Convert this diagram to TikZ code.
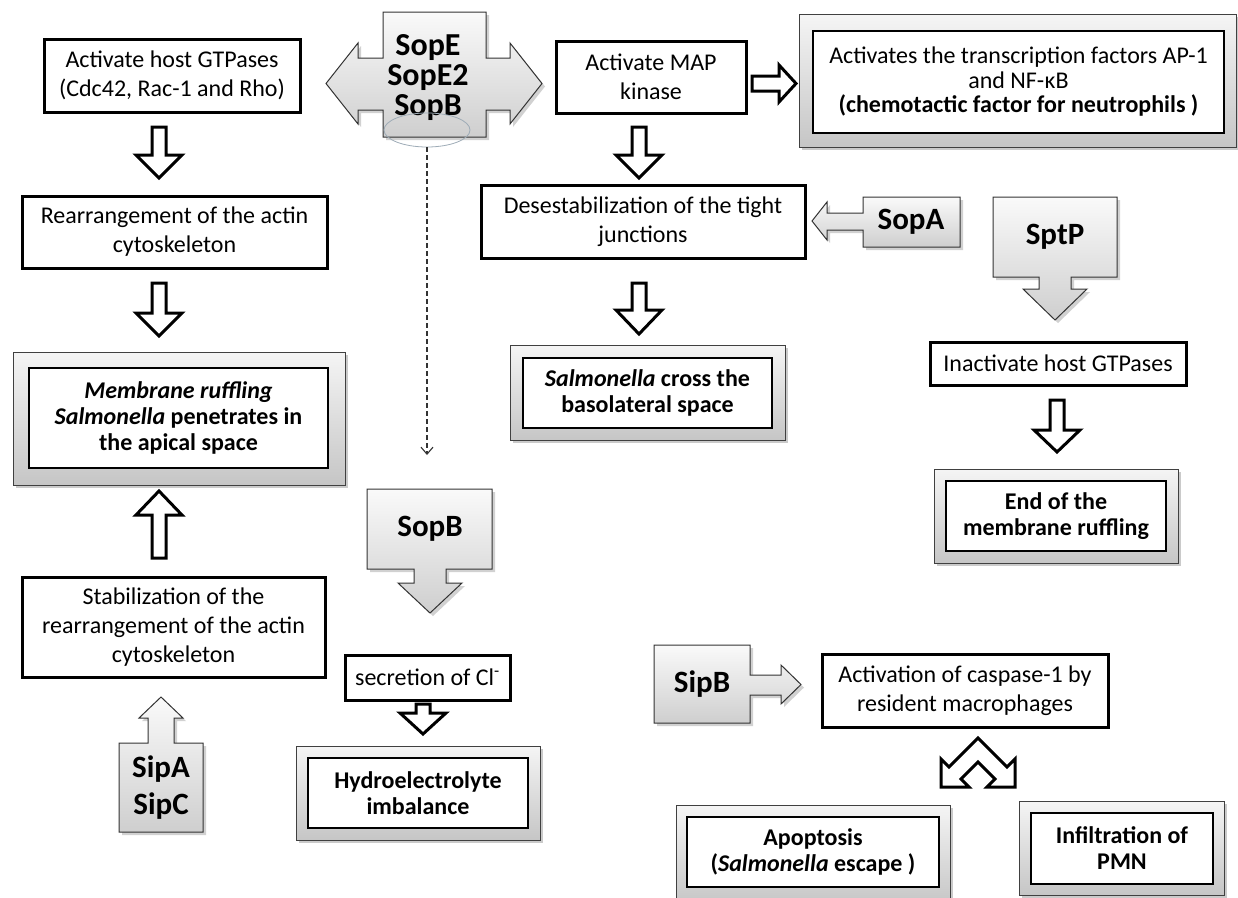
\documentclass[tikz,border=0pt]{standalone}
\usepackage{fontspec}
\setmainfont{Carlito}
\usetikzlibrary{shadows,shapes.geometric,arrows.meta}
\definecolor{ellcol}{HTML}{9DABB6}
\tikzset{
 plainbox/.style={draw=black, line width=3pt, fill=white, align=center, font=\fontsize{24}{29}\selectfont, inner sep=0pt},
 outerbox/.style={draw=black!75, line width=1pt, top color=gray!8, bottom color=gray!45, inner sep=0pt,
   drop shadow={shadow xshift=3pt, shadow yshift=-3pt, opacity=0.35, fill=black!60}},
 innerbox/.style={draw=black, line width=1.3pt, fill=white, align=center, inner sep=0pt, font=\fontsize{24}{26}\selectfont\bfseries},
 grayarrow/.style={draw=black!80, line width=1pt, top color=gray!4, bottom color=gray!38,
   drop shadow={shadow xshift=3pt, shadow yshift=-3pt, opacity=0.3, fill=black!60}},
 harrow/.style={draw=black, line width=3pt, fill=white, line join=miter},
 labeltxt/.style={font=\fontsize{31}{37}\selectfont\bfseries, align=center, inner sep=0pt},
}
\newcommand{\hdownarrow}[4]{\draw[harrow] ({#1-7},#2) -- ({#1+7},#2) -- ({#1+7},#3) -- ({#1+23},#3) -- (#1,#4) -- ({#1-23},#3) -- ({#1-7},#3) -- cycle;}
\begin{document}
\begin{tikzpicture}[x=1pt,y=-1pt]
\useasboundingbox (0,0) rectangle (1238,897);
\clip (0,0) rectangle (1238,897);

% ---------- SopE cross ----------
\draw[grayarrow] (383,12) -- (486,12) -- (486,58) -- (510,58) -- (510,43) -- (542,83.5) -- (510,124) -- (510,110) -- (486,110) -- (486,137) -- (383,137) -- (383,110) -- (358,110) -- (358,124) -- (326,83.5) -- (358,43) -- (358,58) -- (383,58) -- cycle;
\node[labeltxt, font=\fontsize{32}{30}\selectfont\bfseries] (sope) at (428,78) {SopE\\SopE2\\SopB};
\node[ellipse, draw=ellcol, line width=0.8pt, minimum width=86pt, minimum height=34pt] (ell) at (427,130) {};
\coordinate (dashend) at (427,455);
\draw[black!80, line width=1.1pt, dash pattern=on 5pt off 3pt, -{Straight Barb[length=7pt,width=12pt]}] (ell.south) -- (dashend);

% ---------- left column ----------
\node[plainbox, minimum width=256pt, minimum height=73pt] (a1) at (172,75.5) {Activate host GTPases\\(Cdc42, Rac-1 and Rho)};
\hdownarrow{159}{127}{155}{178}
\node[plainbox, minimum width=305pt, minimum height=72pt] (rearr) at (174.5,232) {Rearrangement of the actin\\cytoskeleton};
\hdownarrow{159}{283}{313}{336}
\node[outerbox, minimum width=332pt, minimum height=133pt] (memo) at (179,418.5) {};
\node[innerbox, minimum width=299pt, minimum height=100pt] (mem) at (178.5,418) {\textit{Membrane ruffling}\\\textit{Salmonella} penetrates in\\the apical space};
\hdownarrow{159}{558}{515}{491}
\node[plainbox, minimum width=303pt, minimum height=100pt] (stab) at (173.5,627) {Stabilization of the\\rearrangement of the actin\\cytoskeleton};
\draw[grayarrow] (119,832) -- (203,832) -- (203,743) -- (174,743) -- (174,718) -- (183,718) -- (161,697) -- (139,718) -- (148,718) -- (148,743) -- (119,743) -- cycle;
\node[labeltxt] (sipa) at (161,788) {SipA\\SipC};

% ---------- middle column ----------
\node[plainbox, minimum width=190pt, minimum height=72pt] (a2) at (651,77) {Activate MAP\\kinase};
\draw[harrow] (752,76) -- (779,76) -- (779,65) -- (796,83.5) -- (779,102) -- (779,91) -- (752,91) -- cycle;
\node[outerbox, minimum width=437pt, minimum height=133pt] (trano) at (1017.5,80.5) {};
\node[innerbox, font=\fontsize{24}{24.5}\selectfont, minimum width=411pt, minimum height=102pt] (tran) at (1018.5,82) {Activates the transcription factors AP-1\\and NF-\kern.5pt κB\\\textbf{(chemotactic factor for neutrophils )}};
\hdownarrow{639}{127}{155}{178}
\node[plainbox, minimum width=324pt, minimum height=73pt] (desest) at (643,221.5) {Desestabilization of the tight\\junctions};
\draw[grayarrow] (960,197) -- (960,247) -- (863,247) -- (863,230) -- (827,230) -- (827,240) -- (812,221) -- (827,202) -- (827,213) -- (863,213) -- (863,197) -- cycle;
\node[labeltxt] (sopa) at (911,222) {SopA};
\hdownarrow{639}{283}{310}{334}
\node[outerbox, minimum width=275pt, minimum height=95pt] (salmo) at (647.5,392.5) {};
\node[innerbox, minimum width=249pt, minimum height=70pt] (salm) at (647.5,393) {\textit{Salmonella} cross the\\basolateral space};

\draw[grayarrow] (367,489) -- (492,489) -- (492,569) -- (446,569) -- (446,583) -- (462,583) -- (430,613) -- (398,583) -- (414,583) -- (414,569) -- (367,569) -- cycle;
\node[labeltxt] (sopb) at (430,529) {SopB};
\node[plainbox, minimum width=165pt, minimum height=45pt] (secr) at (427.5,677.5) {secretion of Cl\textsuperscript{-}};
\hdownarrow{423}{704}{713}{734}
\node[outerbox, minimum width=244pt, minimum height=94pt] (hydro) at (418,793) {};
\node[innerbox, minimum width=220pt, minimum height=70pt] (hyd) at (418,793) {Hydroelectrolyte\\imbalance};

% ---------- right column ----------
\draw[grayarrow] (993,197) -- (1117,197) -- (1117,277) -- (1071,277) -- (1071,289) -- (1087,289) -- (1055,320) -- (1023,289) -- (1039,289) -- (1039,277) -- (993,277) -- cycle;
\node[labeltxt] (sptp) at (1055,237) {SptP};
\node[plainbox, minimum width=256pt, minimum height=43pt] (inact) at (1058,363.5) {Inactivate host GTPases};
\hdownarrow{1057}{400}{430}{452}
\node[outerbox, minimum width=244pt, minimum height=94pt] (endo) at (1056,516) {};
\node[innerbox, minimum width=220pt, minimum height=70pt] (endr) at (1056,516) {End of the\\membrane ruffling};

\draw[grayarrow] (654,645) -- (750,645) -- (750,675) -- (781,675) -- (781,665) -- (801,684.5) -- (781,704) -- (781,695) -- (750,695) -- (750,723) -- (654,723) -- cycle;
\node[labeltxt] (sipb) at (702,684) {SipB};
\node[plainbox, minimum width=286pt, minimum height=73pt] (casp) at (965,690.5) {Activation of caspase-1 by\\resident macrophages};
\draw[harrow] (978,738) -- (1007,767) -- (1015,759) -- (1015,787) -- (987,787) -- (995,779) -- (978,762) -- (961,779) -- (969,787) -- (941,787) -- (941,759) -- (949,767) -- cycle;
\node[outerbox, minimum width=274pt, minimum height=100pt] (apopo) at (813,855) {};
\node[innerbox, minimum width=252pt, minimum height=70pt] (apop) at (813,852) {Apoptosis\\(\textit{Salmonella} escape )};
\node[outerbox, minimum width=205pt, minimum height=94pt] (pmno) at (1121.5,848) {};
\node[innerbox, minimum width=182pt, minimum height=71pt] (pmn) at (1122,848.5) {Infiltration of\\PMN};
\end{tikzpicture}
\end{document}
